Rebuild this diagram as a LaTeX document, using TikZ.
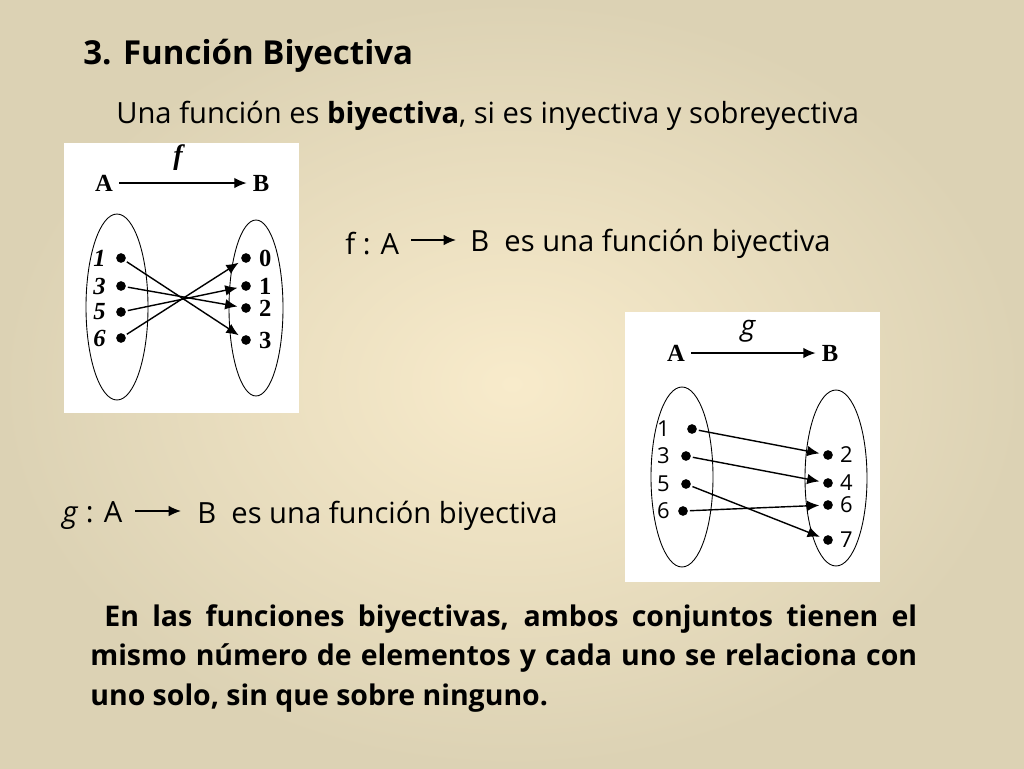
\documentclass[tikz,border=0pt]{standalone}
\usepackage{fontspec}
\setmainfont{Open Sans}
\newfontfamily\serifdiag{Liberation Serif}
\usetikzlibrary{arrows.meta}
\definecolor{bgin}{HTML}{F8EBCB}
\definecolor{bgout}{HTML}{DCD2B4}
\tikzset{>={Latex[length=7pt,width=6pt]}}
\tikzset{pt/.style={circle,fill=black,inner sep=0pt,minimum size=5.5pt}}
\tikzset{map/.style={->,line width=0.8pt,shorten <=1pt,shorten >=2pt}}
\tikzset{lblf/.style={font=\serifdiag\bfseries\itshape\fontsize{14}{14}\selectfont}}
\tikzset{lblb/.style={font=\serifdiag\bfseries\fontsize{14}{14}\selectfont}}
\tikzset{lblg/.style={font=\fontsize{12.5}{12.5}\selectfont}}
\tikzset{body/.style={font=\fontsize{16.6}{18}\selectfont,anchor=west,inner sep=0pt}}
\begin{document}
\begin{tikzpicture}[x=0.02cm,y=-0.02cm]
\useasboundingbox (0,0) rectangle (1024,768);
\shade[inner color=bgin,outer color=bgout] (0,0) rectangle (1024,768);

% titles
\node[body,font=\bfseries\fontsize{18.8}{20}\selectfont] (title) at (83,56) {3. Función Biyectiva};
\node[body] (def) at (116,116) {Una función es \textbf{biyectiva}, si es inyectiva y sobreyectiva};

% diagram f
\fill[white] (64,143) rectangle (299,413);
\draw[line width=0.5pt] (117,307) ellipse [x radius=31,y radius=93];
\draw[line width=0.5pt] (256,308) ellipse [x radius=27,y radius=88];
\node[lblb] (fA) at (104,183) {A};
\node[lblb] (fB) at (261,183) {B};
\draw[->,line width=0.8pt] (fA) -- (fB);
\node[lblf,font=\serifdiag\bfseries\itshape\fontsize{16}{16}\selectfont] (fname) at (178,158) {f};
\foreach \n/\y in {1/258,3/286,5/312,6/338}
  {\node[pt] (fa\n) at (121,\y) {};
   \node[lblf,anchor=east] at (112,\y) {\n};}
\foreach \n/\y in {0/258,1/286,2/308,3/340}
  {\node[pt] (fb\n) at (246,\y) {};
   \node[lblb,anchor=west] at (253,\y) {\n};}
\foreach \a/\b in {1/3,3/2,5/1,6/0}
  \draw[map] (fa\a) -- (fb\b);

% diagram g
\fill[white] (625,312) rectangle (880,582);
\draw[line width=0.5pt] (682,477) ellipse [x radius=31,y radius=90];
\draw[line width=0.5pt] (836,478) ellipse [x radius=31,y radius=88];
\node[lblb] (gA) at (676,353) {A};
\node[lblb] (gB) at (830,353) {B};
\draw[->,line width=0.8pt] (gA) -- (gB);
\node[lblg,font=\itshape\fontsize{16}{16}\selectfont] (gname) at (748,331) {g};
\foreach \n/\x/\y in {1/692/429,3/686/456,5/686/484,6/683/511}
  {\node[pt] (ga\n) at (\x,\y) {};
   \node[lblg,anchor=east] at (676,\y) {\n};}
\foreach \n/\y in {2/455,4/483,6/505,7/540}
  {\node[pt] (gb\n) at (828,\y) {};
   \node[lblg,anchor=west] at (834,\y) {\n};}
\foreach \a/\b in {1/2,3/4,5/7,6/6}
  \draw[map] (ga\a) -- (gb\b);

% statements
\node[body] (fst) at (345,244) {f : A};
\node[body] (fst2) at (470,244) {B\ \ es una función biyectiva};
\coordinate (fs1) at (411,240);
\coordinate (fs2) at (456,240);
\draw[->,line width=0.8pt] (fs1) -- (fs2);
\node[body] (gst) at (62,516) {\textit{g} : A};
\node[body] (gst2) at (197,516) {B\ \ es una función biyectiva};
\coordinate (gs1) at (135,511);
\coordinate (gs2) at (181,511);
\draw[->,line width=0.8pt] (gs1) -- (gs2);

% note
\node[body,anchor=north west,text width=16.54cm,align=justify,font=\bfseries\fontsize{16.2}{22.5}\selectfont] (note) at (90,604)
  {\hspace*{8pt}En las funciones biyectivas, ambos conjuntos tienen el mismo número de elementos y cada uno se relaciona con uno solo, sin que sobre ninguno.};
\end{tikzpicture}
\end{document}
